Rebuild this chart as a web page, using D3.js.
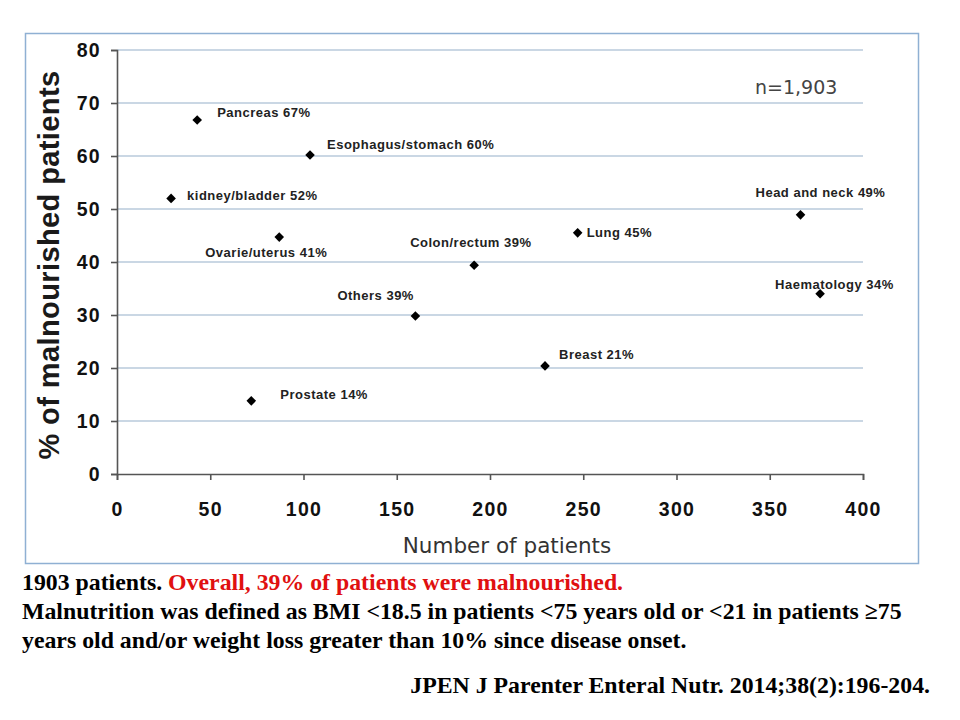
<!DOCTYPE html>
<html>
<head>
<meta charset="utf-8">
<script src="https://cdn.jsdelivr.net/npm/d3@7"></script>
<style>
  body { margin: 0; background: #fff; }
  svg { display: block; }
</style>
</head>
<body>
<script>
// data
let cancers = ['Pancreas', 'Esophagus/stomach', 'kidney/bladder', 'Ovarie/uterus', 'Colon/rectum',
               'Others', 'Prostate', 'Breast', 'Lung', 'Head and neck', 'Haematology'];
let patients = [43, 103.5, 29, 87, 191.5, 160, 72, 229.5, 247, 366.5, 377];
let malnourished = [66.8, 60.2, 52, 44.7, 39.4, 29.8, 13.8, 20.4, 45.5, 48.9, 34];
let labelPct = [67, 60, 52, 41, 39, 39, 14, 21, 45, 49, 34];
let xTicks = [0, 50, 100, 150, 200, 250, 300, 350, 400];
let yTicks = [0, 10, 20, 30, 40, 50, 60, 70, 80];

// label placement (pixels from the marker), layout only
let labelDx = [20, 17, 16, -74, -64, -78, 29, 14, 9, -45, -45];
let labelDy = [-8, -10, -3, 15, -23, -21, -6, -11, 0, -22, -9];

const W = 960, H = 720;
const AXIS = '#555';
const GRID = '#b9cadb';
const FRAME = '#8fb0d3';

let svg = d3.select('body').append('svg')
    .attr('width', W)
    .attr('height', H);

// frame round the chart
svg.append('rect')
    .attr('x', 25.5).attr('y', 33.5)
    .attr('width', 893).attr('height', 530)
    .attr('fill', '#fff')
    .attr('stroke', FRAME)
    .attr('stroke-width', 1.5);

let x = d3.scaleLinear().domain([0, 400]).range([117, 863]);
let y = d3.scaleLinear().domain([0, 80]).range([474, 50]);

// horizontal grid
svg.append('g')
    .selectAll('line')
    .data(yTicks.filter(d => d > 0))
    .join('line')
        .attr('x1', x(0)).attr('x2', x(400))
        .attr('y1', d => y(d)).attr('y2', d => y(d))
        .attr('stroke', GRID)
        .attr('stroke-width', 1.6);

// axes
let xAxis = svg.append('g')
    .attr('transform', `translate(0,${y(0)})`)
    .call(d3.axisBottom(x).tickValues(xTicks).tickSize(6).tickPadding(22));
let yAxis = svg.append('g')
    .attr('transform', `translate(${x(0)},0)`)
    .call(d3.axisLeft(y).tickValues(yTicks).tickSize(6).tickPadding(10));

[xAxis, yAxis].forEach(function(a) {
    a.select('.domain').attr('stroke', AXIS).attr('stroke-width', 1.6);
    a.selectAll('.tick line').attr('stroke', AXIS).attr('stroke-width', 1.6);
    a.selectAll('.tick text')
        .attr('fill', '#111')
        .style('font-family', '"Liberation Sans", Arial, sans-serif')
        .style('font-weight', 'bold')
        .style('font-size', '19.5px')
        .style('letter-spacing', '1.3px');
});
yAxis.selectAll('.tick line').attr('x2', -6);

// axis titles
svg.append('text')
    .attr('transform', `translate(59,265) rotate(-90)`)
    .attr('text-anchor', 'middle')
    .style('font-family', '"Liberation Sans", Arial, sans-serif')
    .style('font-weight', 'bold')
    .style('font-size', '29px')
    .style('letter-spacing', '0.4px')
    .attr('fill', '#1a1a1a')
    .text('% of malnourished patients');

svg.append('text')
    .attr('x', 507).attr('y', 553)
    .attr('text-anchor', 'middle')
    .style('font-family', '"DejaVu Sans", Verdana, sans-serif')
    .style('font-size', '21.5px')
    .attr('fill', '#333')
    .text('Number of patients');

svg.append('text')
    .attr('x', 755).attr('y', 94)
    .style('font-family', '"DejaVu Sans", Verdana, sans-serif')
    .style('font-size', '19px')
    .attr('fill', '#444')
    .text('n=1,903');

// points
let idx = d3.range(cancers.length);
let diamond = d3.symbol().type(d3.symbolSquare).size(46);

svg.append('g')
    .selectAll('path')
    .data(idx)
    .join('path')
        .attr('d', diamond)
        .attr('transform', i => `translate(${x(patients[i])},${y(malnourished[i])}) rotate(45)`)
        .attr('fill', '#000');

svg.append('g')
    .selectAll('text')
    .data(idx)
    .join('text')
        .attr('x', i => x(patients[i]) + labelDx[i])
        .attr('y', i => y(malnourished[i]) + labelDy[i])
        .attr('dy', '0.35em')
        .style('font-family', '"Liberation Sans", Arial, sans-serif')
        .style('font-weight', 'bold')
        .style('font-size', '13px')
        .style('letter-spacing', '0.5px')
        .attr('fill', '#222')
        .text(i => cancers[i] + ' ' + labelPct[i] + '%');

// caption below the frame
let serif = '"Liberation Serif", "Times New Roman", serif';
let capSize = '23.8px';
let line1 = svg.append('text')
    .attr('x', 22).attr('y', 590)
    .style('font-family', serif)
    .style('font-weight', 'bold')
    .style('font-size', capSize);
line1.append('tspan').attr('fill', '#000').text('1903 patients. ');
line1.append('tspan').attr('fill', '#e01010').text('Overall, 39% of patients were malnourished.');

svg.append('text')
    .attr('x', 22).attr('y', 619)
    .style('font-family', serif)
    .style('font-weight', 'bold')
    .style('font-size', capSize)
    .text('Malnutrition was defined as BMI <18.5 in patients <75 years old or <21 in patients \u226575');

svg.append('text')
    .attr('x', 22).attr('y', 648)
    .style('font-family', serif)
    .style('font-weight', 'bold')
    .style('font-size', capSize)
    .text('years old and/or weight loss greater than 10% since disease onset.');

svg.append('text')
    .attr('x', 930).attr('y', 693)
    .attr('text-anchor', 'end')
    .style('font-family', serif)
    .style('font-weight', 'bold')
    .style('font-size', capSize)
    .text('JPEN J Parenter Enteral Nutr. 2014;38(2):196-204.');
</script>
</body>
</html>
